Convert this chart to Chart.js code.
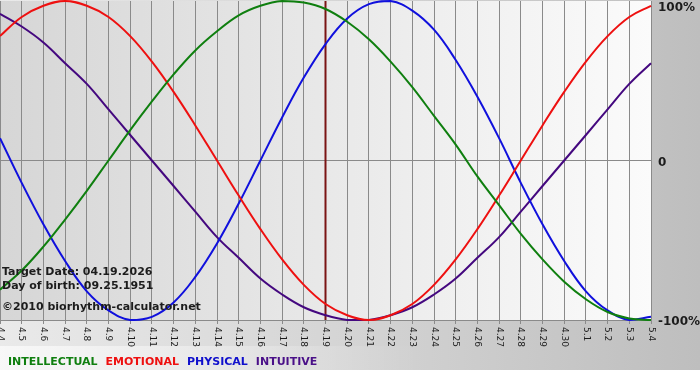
<!DOCTYPE html>
<html>
<head>
<meta charset="utf-8">
<title>Biorhythm</title>
<script src="https://cdn.jsdelivr.net/npm/chart.js@4.4.1/dist/chart.umd.min.js"></script>
<style>
  html, body { margin: 0; padding: 0; background: #fff; }
  canvas { display: block; }
</style>
</head>
<body>
<canvas id="bio" width="700" height="380"></canvas>
<script>
// days on the x axis (month.day)
const days = ['4.4', '4.5', '4.6', '4.7', '4.8', '4.9', '4.10', '4.11', '4.12', '4.13', '4.14',
  '4.15', '4.16', '4.17', '4.18', '4.19', '4.20', '4.21', '4.22', '4.23', '4.24', '4.25',
  '4.26', '4.27', '4.28', '4.29', '4.30', '5.1', '5.2', '5.3', '5.4'];

// cycle values in percent, one per day
const intellectual = [-81, -69, -54, -37, -19, 0, 19, 37, 54, 69, 81, 91, 97, 100, 99, 95,
  87, 76, 62, 46, 28, 10, -10, -28, -46, -62, -76, -87, -95, -99, -100];
const emotional = [78, 90, 97, 100, 97, 90, 78, 62, 43, 22, 0, -22, -43, -62, -78, -90,
  -97, -100, -97, -90, -78, -62, -43, -22, 0, 22, 43, 62, 78, 90, 97];
const physical = [14, -14, -40, -63, -82, -94, -100, -98, -89, -73, -52, -27, 0, 27, 52, 73,
  89, 98, 100, 94, 82, 63, 40, 14, -14, -40, -63, -82, -94, -100, -98];
const intuitive = [92, 84, 74, 61, 48, 32, 16, 0, -16, -32, -48, -61, -74, -84, -92, -97,
  -100, -100, -97, -92, -84, -74, -61, -48, -32, -16, 0, 16, 32, 48, 61];

const yTicks = [100, 0, -100];
const targetDay = '4.19';
const infoLines = ['Target Date: 04.19.2026', 'Day of birth: 09.25.1951'];
const credit = '\u00a92010 biorhythm-calculator.net';

const gridColor = '#8a8a8a';
const textColor = '#1c1c1c';

const bioPlugin = {
  id: 'bio',
  beforeDraw(chart) {
    const { ctx, chartArea: a, width, height } = chart;
    ctx.save();
    // outer background
    let g = ctx.createLinearGradient(0, 0, width, 0);
    g.addColorStop(0, '#eaeaea');
    g.addColorStop(1, '#bebebe');
    ctx.fillStyle = g;
    ctx.fillRect(0, 0, width, 370);
    // lighter band behind the legend on the left
    g = ctx.createLinearGradient(0, 0, 420, 0);
    g.addColorStop(0, 'rgba(255,255,255,0.65)');
    g.addColorStop(1, 'rgba(255,255,255,0)');
    ctx.fillStyle = g;
    ctx.fillRect(0, 346, 420, 24);
    ctx.fillStyle = '#ffffff';
    ctx.fillRect(0, 370, width, height - 370);
    // plot area
    g = ctx.createLinearGradient(a.left, 0, a.right, 0);
    g.addColorStop(0, '#d6d6d6');
    g.addColorStop(1, '#fbfbfb');
    ctx.fillStyle = g;
    ctx.fillRect(a.left, a.top, a.right - a.left, a.bottom - a.top);
    ctx.restore();
  },
  beforeDatasetsDraw(chart) {
    const { ctx, chartArea: a } = chart;
    const x = chart.scales.x.getPixelForValue(days.indexOf(targetDay));
    ctx.save();
    ctx.strokeStyle = '#7a1414';
    ctx.lineWidth = 2;
    ctx.beginPath();
    ctx.moveTo(x, a.top);
    ctx.lineTo(x, a.bottom);
    ctx.stroke();
    ctx.restore();
  },
  afterDraw(chart) {
    const { ctx, chartArea: a } = chart;
    const xs = chart.scales.x;
    const ys = chart.scales.y;
    ctx.save();

    // x labels, turned clockwise
    ctx.font = '9px "DejaVu Sans"';
    ctx.fillStyle = textColor;
    ctx.textAlign = 'left';
    ctx.textBaseline = 'middle';
    days.forEach((d, i) => {
      ctx.save();
      ctx.translate(xs.getPixelForTick(i), a.bottom + 7);
      ctx.rotate(Math.PI / 2);
      ctx.fillText(d, 0, 0);
      ctx.restore();
    });

    // y labels on the right
    ctx.font = 'bold 12px "DejaVu Sans"';
    yTicks.forEach(v => {
      const y = Math.max(ys.getPixelForValue(v) + 2, a.top + 6.5);
      ctx.fillText(v === 0 ? '0' : v + '%', a.right + 7, y);
    });

    // info text
    ctx.font = 'bold 11px "DejaVu Sans"';
    ctx.fillText(infoLines[0], 2, 272);
    ctx.fillText(infoLines[1], 2, 286);
    ctx.fillText(credit, 2, 307);

    // legend
    let lx = 8;
    chart.data.datasets.forEach(ds => {
      ctx.fillStyle = ds.legendColor;
      ctx.fillText(ds.label, lx, 362);
      lx += ctx.measureText(ds.label).width + 8;
    });
    ctx.restore();
  }
};

const line = (label, data, color, legendColor) => ({
  label, data,
  borderColor: color,
  legendColor,
  borderWidth: 2,
  pointRadius: 0,
  tension: 0.4,
  fill: false,
  clip: 3
});

new Chart(document.getElementById('bio'), {
  type: 'line',
  data: {
    labels: days,
    datasets: [
      line('INTELLECTUAL', intellectual, '#0f7f0f', '#0f7f0f'),
      line('EMOTIONAL', emotional, '#ee1010', '#ee1010'),
      line('PHYSICAL', physical, '#1010dd', '#1010cc'),
      line('INTUITIVE', intuitive, '#44087f', '#4a1088')
    ]
  },
  options: {
    responsive: false,
    animation: false,
    layout: { padding: { top: 1, left: 0, right: 0, bottom: 0 } },
    plugins: { legend: { display: false }, tooltip: { enabled: false } },
    scales: {
      x: {
        grid: { color: gridColor, lineWidth: 1, drawTicks: true, tickLength: 4 },
        border: { display: false },
        ticks: { display: false, autoSkip: false },
        afterFit(scale) { scale.height = 60; }
      },
      y: {
        position: 'right',
        min: -100,
        max: 100,
        grid: {
          color: c => (c.tick && c.tick.value === 100 ? 'rgba(0,0,0,0)' : gridColor),
          drawTicks: false
        },
        border: { display: false },
        ticks: { display: false, stepSize: 100 },
        afterFit(scale) { scale.width = 49; }
      }
    }
  },
  plugins: [bioPlugin]
});
</script>
</body>
</html>
